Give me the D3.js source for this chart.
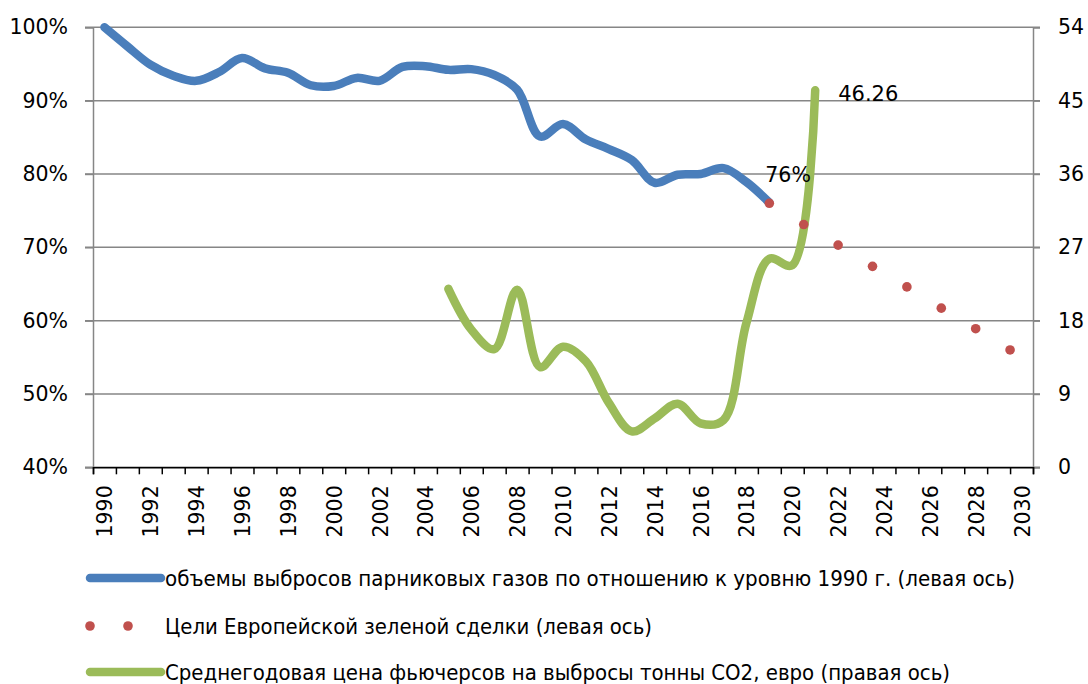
<!DOCTYPE html>
<html><head><meta charset="utf-8">
<script src="https://cdn.jsdelivr.net/npm/d3@7"></script>
<style>body{margin:0;background:#fff}svg{display:block}</style>
</head><body>
<script>
// ---- data ----
const years = d3.range(1990, 2031);
const emissionYears = d3.range(1990, 2020);
const emissionValues = [100, 97.4, 94.9, 93.4, 92.7, 93.9, 95.8, 94.4, 93.8, 92.1, 92.0, 93.1, 92.7, 94.6, 94.7, 94.2, 94.3, 93.5, 91.5, 85.1, 86.8, 84.7, 83.4, 81.9, 78.8, 79.9, 80.0, 80.8, 78.9, 76.1];
const targetYears = [2019, 2020.5, 2022, 2023.5, 2025, 2026.5, 2028, 2029.5];
const targetValues = [76, 73.1, 70.3, 67.4, 64.6, 61.7, 58.9, 56];
const priceYears = d3.range(2005, 2022);
const priceValues = [21.9, 16.9, 14.5, 21.8, 12.3, 14.8, 13.0, 7.9, 4.4, 6.0, 7.8, 5.4, 5.8, 17.7, 25.6, 24.8, 46.26];
const leftTicks = [40, 50, 60, 70, 80, 90, 100];
const rightTicks = [0, 9, 18, 27, 36, 45, 54];
const legendLabels = [
  "объемы выбросов парниковых газов по отношению к уровню 1990 г. (левая ось)",
  "Цели Европейской зеленой сделки (левая ось)",
  "Среднегодовая цена фьючерсов на выбросы тонны CO2, евро (правая ось)"
];
const emissionLabel = "76%";
const priceLabel = "46.26";

// ---- layout ----
const W = 1088, H = 684;
const L = 93, R = 1033, T = 27.3, B = 467.3;
const blue = "#4a7ebb", red = "#c0504d", green = "#9bbb59", grid = "#868686";
const FONT = "DejaVu Sans, sans-serif";
const FS = 20.5;

const svg = d3.select("body").append("svg").attr("width", W).attr("height", H);

const x = d3.scaleLinear().domain([years[0] - 0.5, years[years.length - 1] + 0.5]).range([L, R]);
const yL = d3.scaleLinear().domain([40, 100]).range([B, T]);
const yR = d3.scaleLinear().domain([0, 54]).range([B, T]);

// gridlines
svg.append("g").selectAll("line").data(leftTicks).join("line")
  .attr("x1", L - 8).attr("x2", R + 7)
  .attr("y1", d => yL(d)).attr("y2", d => yL(d))
  .attr("stroke", grid).attr("stroke-width", 1.5);

// left axis
const gl = svg.append("g").attr("transform", `translate(${L},0)`)
  .call(d3.axisLeft(yL).tickValues(leftTicks).tickSize(8).tickFormat(d => d + "%"));
gl.select(".domain").attr("stroke", grid).attr("stroke-width", 1.5);
gl.selectAll(".tick line").attr("stroke", grid).attr("stroke-width", 1.5);
gl.selectAll("text").attr("font-family", FONT).attr("font-size", FS).attr("fill", "#000").attr("x", -25);

// right axis
const gr = svg.append("g").attr("transform", `translate(${R},0)`)
  .call(d3.axisRight(yR).tickValues(rightTicks).tickSize(7));
gr.select(".domain").attr("stroke", grid).attr("stroke-width", 1.5);
gr.selectAll(".tick line").attr("stroke", grid).attr("stroke-width", 1.5);
gr.selectAll("text").attr("font-family", FONT).attr("font-size", FS).attr("fill", "#000").attr("x", 25);

// bottom axis ticks
const bounds = d3.range(years[0] - 0.5, years[years.length - 1] + 1, 1);
const gb = svg.append("g").attr("transform", `translate(0,${B})`)
  .call(d3.axisBottom(x).tickValues(bounds).tickSize(7).tickFormat(""));
gb.select(".domain").attr("stroke", "#000").attr("stroke-width", 1.5);
gb.selectAll(".tick line").attr("stroke", "#000").attr("stroke-width", 1.5);

// bottom labels
const labelYears = years.filter(d => d % 2 === 0);
svg.append("g").selectAll("text").data(labelYears).join("text")
  .attr("transform", d => `translate(${x(d) + 8},${B + 18}) rotate(-90)`)
  .attr("text-anchor", "end")
  .attr("font-family", FONT).attr("font-size", FS).attr("fill", "#000")
  .text(d => d);

// lines
const lineL = d3.line().x(d => x(d[0])).y(d => yL(d[1])).curve(d3.curveCatmullRom.alpha(0.5));
const lineR = d3.line().x(d => x(d[0])).y(d => yR(d[1])).curve(d3.curveCatmullRom.alpha(0.5));

svg.append("path").datum(emissionYears.map((y, i) => [y, emissionValues[i]]))
  .attr("d", lineL).attr("fill", "none").attr("stroke", blue).attr("stroke-width", 8.5)
  .attr("stroke-linecap", "round").attr("stroke-linejoin", "round");

svg.append("path").datum(priceYears.map((y, i) => [y, priceValues[i]]))
  .attr("d", lineR).attr("fill", "none").attr("stroke", green).attr("stroke-width", 8.5)
  .attr("stroke-linecap", "round").attr("stroke-linejoin", "round");

svg.append("g").selectAll("circle").data(targetYears.map((y, i) => [y, targetValues[i]])).join("circle")
  .attr("cx", d => x(d[0])).attr("cy", d => yL(d[1])).attr("r", 4.8).attr("fill", red);

// data labels
svg.append("text").attr("x", x(2019) - 4).attr("y", yL(emissionValues[emissionValues.length - 1]) - 21)
  .attr("font-family", FONT).attr("font-size", FS).attr("fill", "#000")
  .text(emissionLabel);
svg.append("text").attr("x", x(2021) + 23).attr("y", yR(priceValues[priceValues.length - 1]) + 11)
  .attr("font-family", FONT).attr("font-size", 21).attr("fill", "#000")
  .text(priceLabel);

// legend
const legY = [578, 626, 672];
const legW = [850, 487, 785];
const lg = svg.append("g");
lg.append("line").attr("x1", 90).attr("x2", 161).attr("y1", legY[0]).attr("y2", legY[0])
  .attr("stroke", blue).attr("stroke-width", 8.5).attr("stroke-linecap", "round");
lg.selectAll("circle.leg").data([90, 128]).join("circle").attr("class", "leg")
  .attr("cx", d => d).attr("cy", legY[1]).attr("r", 4.8).attr("fill", red);
lg.append("line").attr("x1", 90).attr("x2", 161).attr("y1", legY[2]).attr("y2", legY[2])
  .attr("stroke", green).attr("stroke-width", 8.5).attr("stroke-linecap", "round");
lg.selectAll("text").data(legendLabels).join("text")
  .attr("x", 165).attr("y", (d, i) => legY[i]).attr("dy", "0.36em")
  .attr("font-family", "DejaVu Sans Condensed, DejaVu Sans, sans-serif").attr("font-size", 21).attr("fill", "#000")
  .attr("textLength", (d, i) => legW[i]).attr("lengthAdjust", "spacingAndGlyphs")
  .text(d => d);
</script>
</body></html>
